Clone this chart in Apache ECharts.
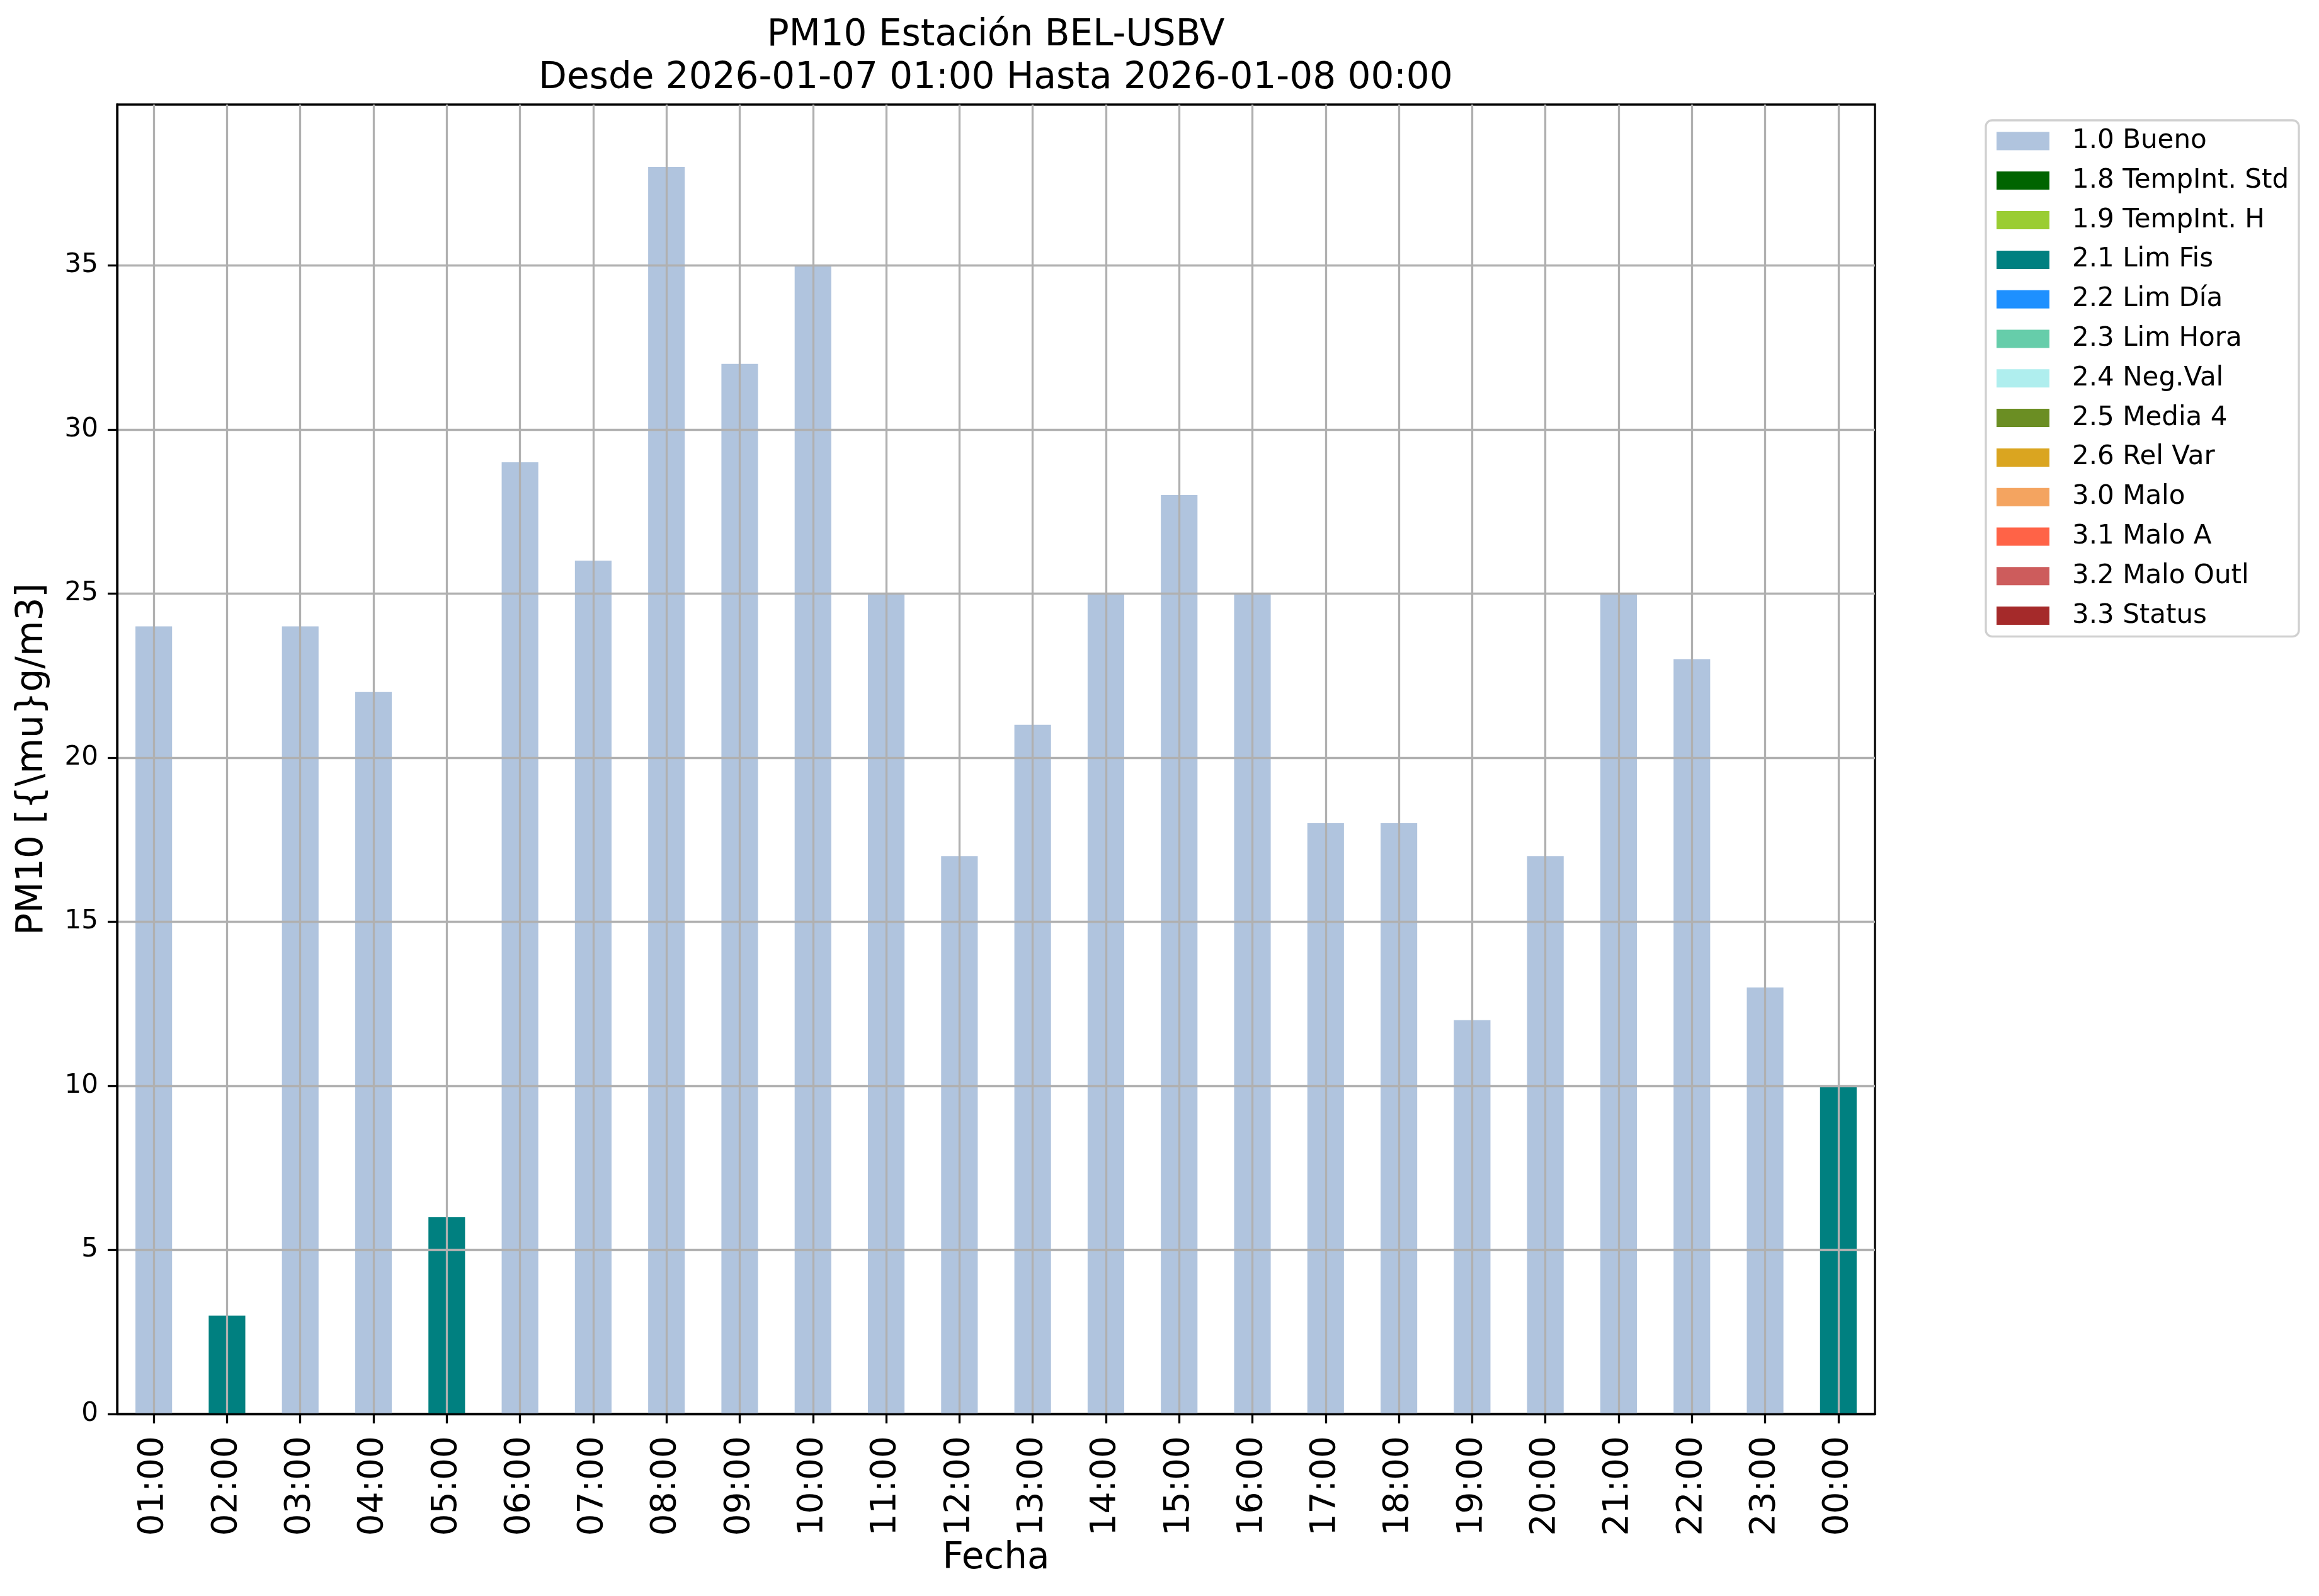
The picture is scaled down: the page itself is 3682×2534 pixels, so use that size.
<!DOCTYPE html>
<html>
<head>
<meta charset="utf-8">
<script src="https://cdn.jsdelivr.net/npm/echarts@6/dist/echarts.min.js"></script>
<style>html,body{margin:0;padding:0;background:#fff;}#c{width:3682px;height:2534px;}</style>
</head>
<body>
<div id="c"></div>
<script>
const hours = ['01:00','02:00','03:00','04:00','05:00','06:00','07:00','08:00','09:00','10:00','11:00','12:00','13:00','14:00','15:00','16:00','17:00','18:00','19:00','20:00','21:00','22:00','23:00','00:00'];
const values = [24,3,24,22,6,29,26,38,32,35,25,17,21,25,28,25,18,18,12,17,25,23,13,10];
const flags = ['1.0 Bueno','2.1 Lim Fis','1.0 Bueno','1.0 Bueno','2.1 Lim Fis','1.0 Bueno','1.0 Bueno','1.0 Bueno','1.0 Bueno','1.0 Bueno','1.0 Bueno','1.0 Bueno','1.0 Bueno','1.0 Bueno','1.0 Bueno','1.0 Bueno','1.0 Bueno','1.0 Bueno','1.0 Bueno','1.0 Bueno','1.0 Bueno','1.0 Bueno','1.0 Bueno','2.1 Lim Fis'];
const flagNames = ['1.0 Bueno','1.8 TempInt. Std','1.9 TempInt. H','2.1 Lim Fis','2.2 Lim Día','2.3 Lim Hora','2.4 Neg.Val','2.5 Media 4','2.6 Rel Var','3.0 Malo','3.1 Malo A','3.2 Malo Outl','3.3 Status'];
const flagColors = ['#B0C4DE','#006400','#9ACD32','#008080','#1E90FF','#66CDAA','#AFEEEE','#6B8E23','#DAA520','#F4A460','#FF6347','#CD5C5C','#A52A2A'];
const yTicks = [0,5,10,15,20,25,30,35];
const yMax = 39.9;
const titleText = 'PM10 Estación BEL-USBV\nDesde 2026-01-07 01:00 Hasta 2026-01-08 00:00';
const xName = 'Fecha';
const yName = 'PM10 [{\\mu}g/m3]';

const FONT = 'DejaVu Sans';
const gridColor = '#b0b0b0';

const barSeries = flagNames.map((name, i) => ({
  name: name,
  type: 'bar',
  stack: 'total',
  barWidth: '50%',
  itemStyle: { color: flagColors[i] },
  data: values.map((v, k) => flags[k] === name ? v : '-'),
  z: 2
}));

const gridLineSeries = {
  name: '__grid',
  type: 'line',
  data: [],
  z: 5,
  silent: true,
  markLine: {
    silent: true,
    symbol: ['none', 'none'],
    label: { show: false },
    animation: false,
    lineStyle: { color: gridColor, width: 3.3, type: 'solid' },
    emphasis: { disabled: true },
    data: hours.map(h => ({ xAxis: h })).concat(yTicks.slice(1).map(v => ({ yAxis: v })))
  }
};

const chart = echarts.init(document.getElementById('c'), null, { renderer: 'canvas' });
chart.setOption({
  animation: false,
  backgroundColor: '#ffffff',
  textStyle: { fontFamily: FONT },
  title: {
    text: titleText,
    left: 1581,
    top: 23,
    padding: 0,
    textAlign: 'center',
    textStyle: { fontFamily: FONT, fontSize: 58, fontWeight: 'normal', color: '#000', lineHeight: 68 }
  },
  legend: {
    data: flagNames,
    orient: 'vertical',
    left: 3153,
    top: 191,
    padding: [12, 16, 12, 17],
    itemWidth: 84,
    itemHeight: 29,
    itemGap: 20.8,
    icon: 'rect',
    selectedMode: false,
    borderColor: '#d0d0d0',
    borderWidth: 3.3,
    borderRadius: 10,
    backgroundColor: '#fff',
    textStyle: { fontFamily: FONT, fontSize: 42, color: '#000', lineHeight: 42, padding: [0, 0, 0, 31] }
  },
  grid: {
    left: 186, top: 166, width: 2791, height: 2079,
    show: true, borderColor: '#000', borderWidth: 3.3, backgroundColor: 'transparent',
    containLabel: false
  },
  xAxis: {
    type: 'category',
    data: hours,
    name: xName,
    nameLocation: 'middle',
    nameGap: 200,
    nameTextStyle: { fontFamily: FONT, fontSize: 58, color: '#000' },
    axisLine: { show: true, lineStyle: { color: '#000', width: 3.3 } },
    axisTick: { show: true, alignWithLabel: true, length: 15, lineStyle: { color: '#000', width: 3.3 } },
    axisLabel: { rotate: 90, fontFamily: FONT, fontSize: 55, color: '#000', margin: 35, interval: 0 },
    splitLine: { show: false },
    z: 6
  },
  yAxis: {
    type: 'value',
    min: 0,
    max: yMax,
    interval: 5,
    name: yName,
    nameLocation: 'middle',
    nameGap: 105,
    nameTextStyle: { fontFamily: FONT, fontSize: 58, color: '#000' },
    axisLine: { show: true, lineStyle: { color: '#000', width: 3.3 } },
    axisTick: { show: true, length: 15, lineStyle: { color: '#000', width: 3.3 }, customValues: yTicks },
    axisLabel: { fontFamily: FONT, fontSize: 42, color: '#000', margin: 30, customValues: yTicks },
    splitLine: { show: false },
    z: 6
  },
  series: barSeries.concat([gridLineSeries])
});
</script>
</body>
</html>
